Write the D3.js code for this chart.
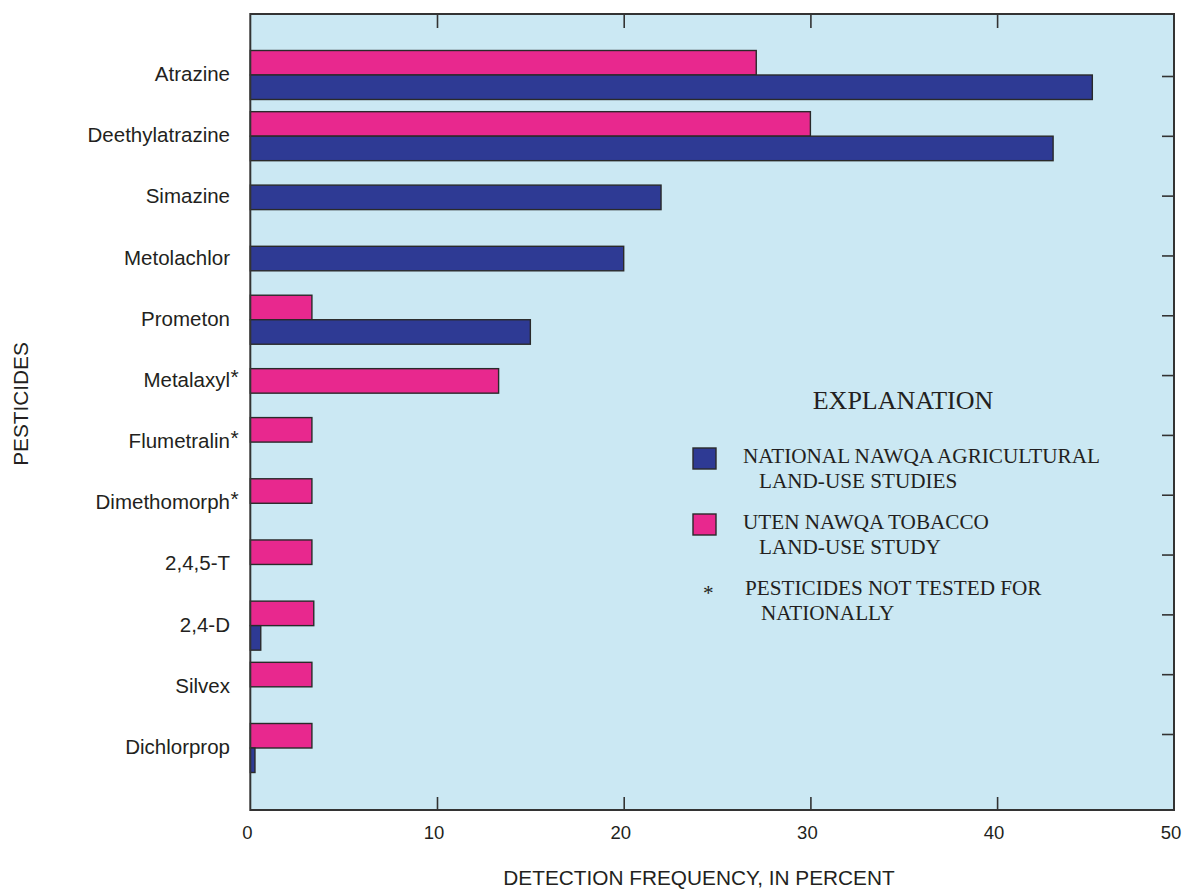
<!DOCTYPE html>
<html><head><meta charset="utf-8">
<script src="https://cdn.jsdelivr.net/npm/d3@7"></script>
<style>body{margin:0;background:#fff;} svg{display:block;}</style>
</head><body>
<svg id="chart" width="1186" height="889"></svg>
<script>
const categories = ["Atrazine","Deethylatrazine","Simazine","Metolachlor","Prometon","Metalaxyl","Flumetralin","Dimethomorph","2,4,5-T","2,4-D","Silvex","Dichlorprop"];
const nationalValues = [45.1, 43.0, 22.0, 20.0, 15.0, null, 0, 0, 0, 0.56, 0, 0.25];
const utenValues = [27.1, 30.0, null, null, 3.3, 13.3, 3.3, 3.3, 3.3, 3.4, 3.3, 3.3];
const notTestedNationally = [false,false,false,false,false,true,true,true,false,false,false,false];
const xTicks = [0, 10, 20, 30, 40, 50];
const legendItems = [
  {key:"national", lines:["NATIONAL NAWQA AGRICULTURAL","LAND-USE STUDIES"]},
  {key:"uten", lines:["UTEN NAWQA TOBACCO","LAND-USE STUDY"]}
];

(function(){
const colors = {national:"#2e3a94", uten:"#e8288e", bg:"#cbe8f3", frame:"#333333", text:"#231f20"};
const svg = d3.select("#chart");
const pL = 250.3, pR = 1174, pT = 14, pB = 810;
const x = d3.scaleLinear().domain([0, 50]).range([pL, 1183.8]);
const anchor = d3.scalePoint().domain(categories).range([75, 748]);
const tickY = d3.scalePoint().domain(categories).range([76, 734]);
const barH = 24.5;

svg.append("rect").attr("x", pL).attr("y", pT).attr("width", pR - pL).attr("height", pB - pT)
  .attr("fill", colors.bg);

const rows = categories.map((c, i) => ({c, n: nationalValues[i], u: utenValues[i], star: notTestedNationally[i]}));

const g = svg.append("g");
rows.forEach(r => {
  const a = anchor(r.c);
  if (r.u !== null) {
    const yy = r.n === null ? a - barH / 2 : a - barH;
    g.append("rect").attr("x", x(0)).attr("y", yy).attr("width", x(r.u) - x(0)).attr("height", barH)
      .attr("fill", colors.uten).attr("stroke", "#2a2a2a").attr("stroke-width", 1.4);
  }
  if (r.n !== null) {
    const yy = r.u === null ? a - barH / 2 : a;
    g.append("rect").attr("x", x(0)).attr("y", yy).attr("width", x(r.n) - x(0)).attr("height", barH)
      .attr("fill", colors.national).attr("stroke", "#2a2a2a").attr("stroke-width", 1.4);
  }
});

const inner = xTicks.filter(v => v > 0 && x(v) < pR);
svg.append("g").attr("transform", `translate(0,${pT})`)
  .call(d3.axisTop(x).tickValues(inner).tickSize(-14).tickFormat(""))
  .call(s => s.select(".domain").remove())
  .selectAll("line").attr("stroke", colors.frame).attr("stroke-width", 1.6);
svg.append("g").attr("transform", `translate(0,${pB})`)
  .call(d3.axisBottom(x).tickValues(inner).tickSize(-13).tickFormat(""))
  .call(s => s.select(".domain").remove())
  .selectAll("line").attr("stroke", colors.frame).attr("stroke-width", 1.6);

svg.append("g").attr("transform", `translate(${pR},0)`)
  .call(d3.axisRight(tickY).tickSize(-12).tickFormat(""))
  .call(s => s.select(".domain").remove())
  .selectAll("line").attr("stroke", colors.frame).attr("stroke-width", 1.6);

svg.append("rect").attr("x", pL).attr("y", pT).attr("width", pR - pL).attr("height", pB - pT)
  .attr("fill", "none").attr("stroke", colors.frame).attr("stroke-width", 2);

const xl = svg.append("g").attr("transform", `translate(0,${pB})`)
  .call(d3.axisBottom(x).tickValues(xTicks).tickSize(0).tickPadding(0).tickFormat(d3.format("d")));
xl.select(".domain").remove();
xl.selectAll(".tick").attr("transform", d => `translate(${Math.min(x(d), pR) - 3},0)`);
xl.selectAll("text").attr("y", 29).attr("dy", 0)
  .attr("font-family", "'Liberation Sans', Arial, sans-serif").attr("font-size", 18.5).attr("fill", colors.text);

const lab = svg.append("g").attr("font-family", "'Liberation Sans', Arial, sans-serif").attr("font-size", 20.5).attr("fill", colors.text);
rows.forEach(r => {
  const a = anchor(r.c);
  lab.append("text").attr("x", 230).attr("y", a + 6).attr("text-anchor", "end").text(r.c);
  if (r.star) lab.append("text").attr("x", 230.5).attr("y", a + 3).attr("font-size", 21).text("*");
});

svg.append("text").attr("x", 699).attr("y", 885).attr("text-anchor", "middle")
  .attr("font-family", "'Liberation Sans', Arial, sans-serif").attr("font-size", 20.8).attr("fill", colors.text)
  .text("DETECTION FREQUENCY, IN PERCENT");
svg.append("text").attr("transform", "translate(27.5,404) rotate(-90)").attr("text-anchor", "middle")
  .attr("font-family", "'Liberation Sans', Arial, sans-serif").attr("font-size", 20.8).attr("fill", colors.text)
  .text("PESTICIDES");

const lg = svg.append("g").attr("font-family", "'Liberation Serif', 'Times New Roman', serif").attr("fill", colors.text);
lg.append("text").attr("x", 903).attr("y", 409).attr("text-anchor", "middle").attr("font-size", 26).text("EXPLANATION");
legendItems.forEach((it, i) => {
  const by = 463 + i * 66;
  lg.append("rect").attr("x", 693).attr("y", by - 15).attr("width", 23).attr("height", 21)
    .attr("fill", colors[it.key]).attr("stroke", "#2a2a2a").attr("stroke-width", 1.4);
  lg.append("text").attr("x", 743).attr("y", by).attr("font-size", 21.2).text(it.lines[0]);
  lg.append("text").attr("x", 759).attr("y", by + 25).attr("font-size", 21.2).text(it.lines[1]);
});
lg.append("text").attr("x", 703).attr("y", 600).attr("font-size", 21.2).text("*");
lg.append("text").attr("x", 745).attr("y", 595).attr("font-size", 21.2).text("PESTICIDES NOT TESTED FOR");
lg.append("text").attr("x", 761).attr("y", 620).attr("font-size", 21.2).text("NATIONALLY");
})();
</script>
</body></html>
